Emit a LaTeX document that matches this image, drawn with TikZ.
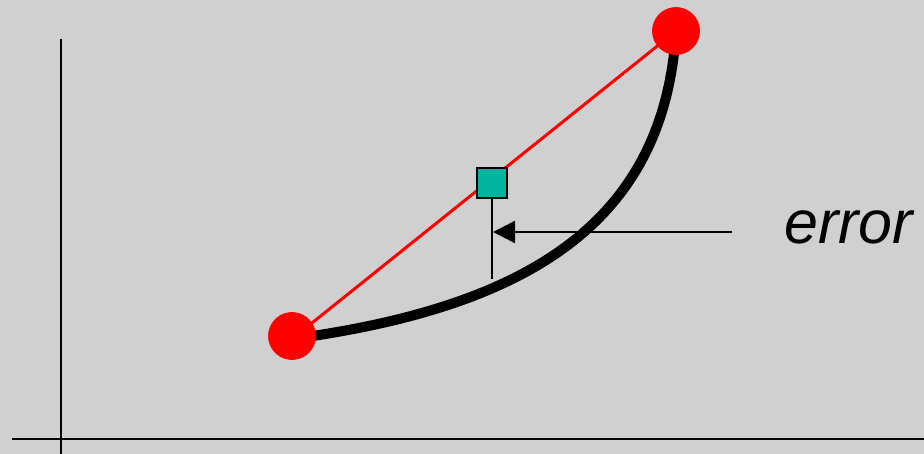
\documentclass[tikz,border=0pt]{standalone}
\usepackage{fontspec}
\setsansfont{Liberation Sans}
\usetikzlibrary{arrows.meta}

\definecolor{bggray}{RGB}{208,208,208}
\definecolor{teal}{RGB}{0,180,160}

\tikzset{
	dot/.style={circle, fill=red, draw=red, line width=0.8pt, minimum size=47pt, inner sep=0pt},
	midbox/.style={rectangle, fill=teal, draw=black, line width=2pt, minimum size=30pt, inner sep=0pt},
	axis/.style={line width=2.5pt},
}

\begin{document}
\begin{tikzpicture}[x=1pt, y=-1pt]
	\fill[bggray] (0,0) rectangle (924,454);
	\useasboundingbox (0,0) rectangle (924,454);
	% axes
	\coordinate (ytop) at (61,39);
	\coordinate (ybot) at (61,454);
	\coordinate (xleft) at (12,439);
	\coordinate (xright) at (924,439);
	\draw[axis] (ytop) -- (ybot);
	\draw[axis] (xleft) -- (xright);
	% end points, curve and chord
	\coordinate (lo) at (292,339);
	\coordinate (hi) at (676,31);
	\draw[line width=10pt] (lo) .. controls (520,308) and (664,228) .. (hi);
	\draw[red, line width=3pt] (lo) -- (hi);
	\node[dot] (p0) at (292,336) {};
	\node[dot] (p1) at (hi) {};
	% midpoint and error marker
	\node[midbox] (mid) at (492,183.5) {};
	\coordinate (foot) at (492,279);
	\draw[line width=2.5pt] (mid.south) -- (foot);
	\coordinate (tail) at (732,232);
	\coordinate (hit) at (493,232);
	\draw[line width=2.3pt, -{Triangle[length=22pt, width=22pt]}] (tail) -- (hit);
	\node[anchor=base west, inner sep=0pt, font=\sffamily\itshape\fontsize{61}{61}\selectfont] (err) at (784,244) {error};
\end{tikzpicture}
\end{document}
